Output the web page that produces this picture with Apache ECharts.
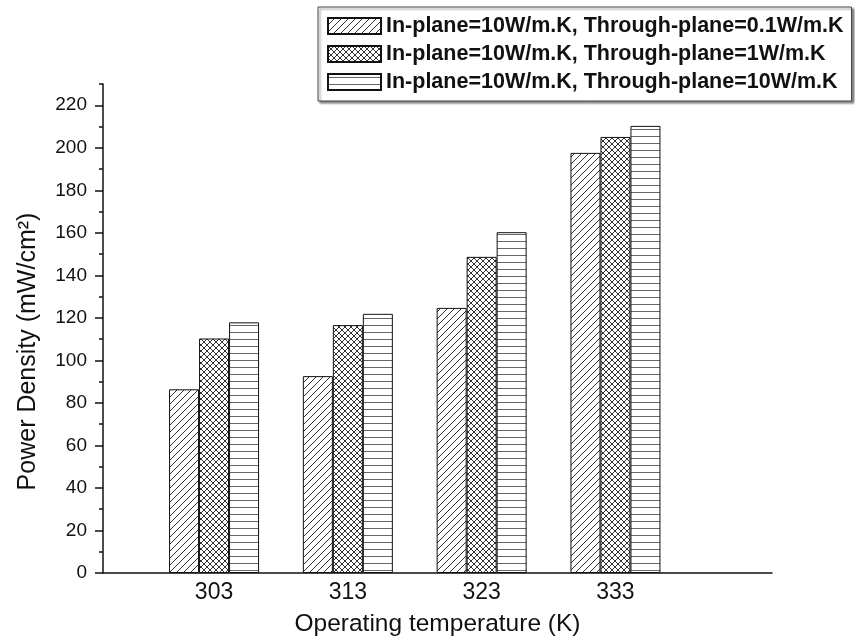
<!DOCTYPE html>
<html>
<head>
<meta charset="utf-8">
<script src="https://cdn.jsdelivr.net/npm/echarts@6/dist/echarts.min.js"></script>
<style>
html,body{margin:0;padding:0;background:#fff;}
#chart{width:855px;height:639px;}
</style>
</head>
<body>
<div id="chart"></div>
<script>
// ---- data ----
const temperatures = [303, 313, 323, 333];
const seriesNames = [
  'In-plane=10W/m.K, Through-plane=0.1W/m.K',
  'In-plane=10W/m.K, Through-plane=1W/m.K',
  'In-plane=10W/m.K, Through-plane=10W/m.K'
];
const tp01 = [86.4, 92.6, 124.7, 197.6];
const tp1 = [110.3, 116.6, 148.7, 205.1];
const tp10 = [117.9, 121.9, 160.3, 210.3];
const yTickLabels = [0, 20, 40, 60, 80, 100, 120, 140, 160, 180, 200, 220];

// ---- hatch patterns ----
function makePattern(kind) {
  const c = document.createElement('canvas');
  const ctx = c.getContext('2d');
  if (kind === 'diag') {
    const s = 7;
    c.width = s; c.height = s;
    ctx.fillStyle = '#fff'; ctx.fillRect(0, 0, s, s);
    ctx.strokeStyle = '#333'; ctx.lineWidth = 1;
    ctx.beginPath();
    ctx.moveTo(-1, s + 1); ctx.lineTo(s + 1, -1);
    ctx.moveTo(-1, 1); ctx.lineTo(1, -1);
    ctx.moveTo(s - 1, s + 1); ctx.lineTo(s + 1, s - 1);
    ctx.stroke();
  } else if (kind === 'cross') {
    const s = 6;
    c.width = s; c.height = s;
    ctx.fillStyle = '#fff'; ctx.fillRect(0, 0, s, s);
    ctx.strokeStyle = '#333'; ctx.lineWidth = 1;
    ctx.beginPath();
    ctx.moveTo(-1, s + 1); ctx.lineTo(s + 1, -1);
    ctx.moveTo(-1, 1); ctx.lineTo(1, -1);
    ctx.moveTo(s - 1, s + 1); ctx.lineTo(s + 1, s - 1);
    ctx.moveTo(-1, -1); ctx.lineTo(s + 1, s + 1);
    ctx.moveTo(-1, s - 1); ctx.lineTo(1, s + 1);
    ctx.moveTo(s - 1, -1); ctx.lineTo(s + 1, 1);
    ctx.stroke();
  } else {
    c.width = 4; c.height = 7;
    ctx.fillStyle = '#fff'; ctx.fillRect(0, 0, 4, 7);
    ctx.fillStyle = '#666'; ctx.fillRect(0, 3, 4, 1);
  }
  return { image: c, repeat: 'repeat' };
}

const patterns = [makePattern('diag'), makePattern('cross'), makePattern('horiz')];
const valueSets = [tp01, tp1, tp10];

const FONT = '"Liberation Sans", Arial, Helvetica, sans-serif';

const chart = echarts.init(document.getElementById('chart'));
const option = {
  animation: false,
  backgroundColor: '#fff',
  grid: { left: 103, right: 83, top: 84, bottom: 66, containLabel: false, outerBoundsMode: 'none' },
  legend: {
    orient: 'vertical',
    left: 318,
    top: 7,
    icon: 'rect',
    itemWidth: 53,
    itemHeight: 16,
    itemGap: 6,
    padding: [8, 8, 8, 9],
    backgroundColor: '#fff',
    borderColor: '#444',
    borderWidth: 1,
    shadowColor: 'rgba(0,0,0,0.45)',
    shadowBlur: 2,
    shadowOffsetX: 2,
    shadowOffsetY: 2,
    textStyle: { fontFamily: FONT, fontWeight: 'bold', fontSize: 21.5, color: '#111' },
    data: seriesNames
  },
  xAxis: {
    type: 'value',
    min: 294.7,
    max: 344.7,
    name: 'Operating temperature (K)',
    nameLocation: 'middle',
    nameGap: 39,
    nameTextStyle: { fontFamily: FONT, fontSize: 24.5, color: '#111' },
    axisLine: { show: true, lineStyle: { color: '#111', width: 1.5 } },
    axisTick: { show: false },
    splitLine: { show: false },
    axisLabel: {
      customValues: temperatures,
      margin: 8,
      fontFamily: FONT, fontSize: 23, color: '#111'
    }
  },
  yAxis: [
    {
      type: 'value',
      min: 0,
      max: 230,
      interval: 10,
      position: 'left',
      name: 'Power Density (mW/cm²)',
      nameLocation: 'middle',
      nameGap: 62,
      nameRotate: 90,
      nameTextStyle: { fontFamily: FONT, fontSize: 25, color: '#111', padding: [0, 46, 0, 0] },
      axisLine: { show: true, onZero: false, lineStyle: { color: '#111', width: 1.5 } },
      axisTick: { show: true, inside: false, length: 4, lineStyle: { color: '#111', width: 1.5 } },
      splitLine: { show: false },
      axisLabel: {
        customValues: yTickLabels,
        margin: 16,
        fontFamily: FONT, fontSize: 19, color: '#111'
      }
    },
    {
      type: 'value',
      min: 0,
      max: 230,
      interval: 10,
      position: 'left',
      axisLine: { show: false },
      axisTick: { show: true, inside: false, length: 8, customValues: yTickLabels, lineStyle: { color: '#111', width: 1.5 } },
      axisLabel: { show: false },
      splitLine: { show: false }
    }
  ],
  series: seriesNames.map((name, i) => ({
    name: name,
    type: 'bar',
    xAxisIndex: 0,
    yAxisIndex: 0,
    barWidth: 30,
    barGap: '0%',
    itemStyle: { color: patterns[i], borderColor: '#111', borderWidth: 1 },
    data: temperatures.map((t, j) => [t, valueSets[i][j]])
  }))
};
chart.setOption(option);
</script>
</body>
</html>
